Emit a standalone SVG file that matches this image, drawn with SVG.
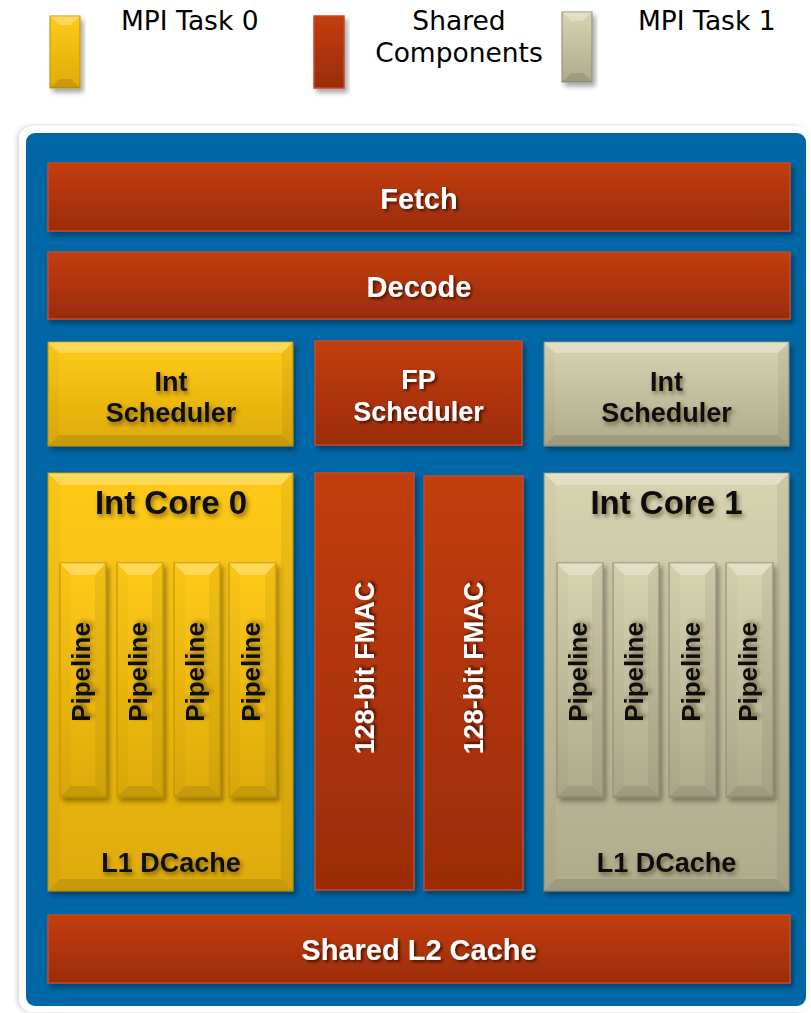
<svg xmlns="http://www.w3.org/2000/svg" width="811" height="1013" viewBox="0 0 811 1013">
  <defs>
    <linearGradient id="gRed" x1="0" y1="0" x2="0" y2="1">
      <stop offset="0" stop-color="#C33D0C"/>
      <stop offset="1" stop-color="#9B2C06"/>
    </linearGradient>
    <linearGradient id="gYel" x1="0" y1="0" x2="0" y2="1">
      <stop offset="0" stop-color="#FFCA16"/>
      <stop offset="1" stop-color="#DEAB0C"/>
    </linearGradient>
    <linearGradient id="gBei" x1="0" y1="0" x2="0" y2="1">
      <stop offset="0" stop-color="#D7D4B2"/>
      <stop offset="1" stop-color="#AEAB8C"/>
    </linearGradient>
    <filter id="boxShadow" x="-10%" y="-10%" width="130%" height="130%">
      <feDropShadow dx="3" dy="4" stdDeviation="2.5" flood-color="#000" flood-opacity="0.35"/>
    </filter>
    <filter id="frameShadow" x="-5%" y="-5%" width="110%" height="110%">
      <feDropShadow dx="-2" dy="0" stdDeviation="2.5" flood-color="#000" flood-opacity="0.18"/>
    </filter>
    <filter id="txtShadow" x="-20%" y="-30%" width="140%" height="160%">
      <feDropShadow dx="2" dy="2" stdDeviation="1.5" flood-color="#000" flood-opacity="0.6"/>
    </filter>
    <filter id="txtShadowDark" x="-20%" y="-30%" width="140%" height="160%">
      <feDropShadow dx="2" dy="3" stdDeviation="2" flood-color="#3a2a00" flood-opacity="0.55"/>
    </filter>
  </defs>
  <style>
    .red { fill: url(#gRed); stroke: #C24B2C; stroke-width: 1.5; }
    .yel { fill: url(#gYel); stroke: #C09300; stroke-width: 1; }
    .bei { fill: url(#gBei); stroke: #8F8C70; stroke-width: 1; }
    .hi { fill: #fff; opacity: 0.28; }
    .lo { fill: #000; opacity: 0.10; }
    .side { fill: #000; opacity: 0.025; }
    .sideR { fill: #000; opacity: 0.055; }
    .lbl { font-family: "Liberation Sans", Arial, sans-serif; font-weight: bold; text-anchor: middle; }
    .w { fill: #fff; filter: url(#txtShadow); }
    .k { fill: #111; filter: url(#txtShadowDark); }
    .legend { font-family: "DejaVu Sans", Verdana, sans-serif; font-size: 26.5px; fill: #000; }
  </style>

  <!-- legend -->
  <g id="legend">
    <g id="legend-task0">
      <rect class="yel" x="50" y="16" width="30" height="72" filter="url(#boxShadow)"/>
      <polygon class="hi" points="50,16 80,16 71,25 59,25"/>
      <polygon class="lo" points="50,88 80,88 71,79 59,79"/>
      <text class="legend" x="121" y="30">MPI Task 0</text>
    </g>
    <g id="legend-shared">
      <rect class="red" x="314" y="16" width="30" height="72" filter="url(#boxShadow)"/>
      <text class="legend" x="459" y="30" text-anchor="middle">Shared</text>
      <text class="legend" x="459" y="62" text-anchor="middle">Components</text>
    </g>
    <g id="legend-task1">
      <rect class="bei" x="562" y="12" width="30" height="70" filter="url(#boxShadow)"/>
      <polygon class="hi" points="562,12 592,12 583,21 571,21"/>
      <polygon class="lo" points="562,82 592,82 583,73 571,73"/>
      <text class="legend" x="638" y="30">MPI Task 1</text>
    </g>
  </g>

  <!-- chip outline -->
  <g id="chip">
    <rect x="19" y="126" width="791" height="886" rx="14" fill="#fff" filter="url(#frameShadow)"/>
    <rect x="26" y="133" width="780" height="873" rx="9" fill="#0067A7"/>
  </g>

  <!-- shared front end -->
  <g id="fetch">
    <rect class="red" x="48" y="163" width="742" height="68" filter="url(#boxShadow)"/>
    <text class="lbl w" x="419" y="209" font-size="29">Fetch</text>
  </g>
  <g id="decode">
    <rect class="red" x="48" y="252" width="742" height="67" filter="url(#boxShadow)"/>
    <text class="lbl w" x="419" y="297" font-size="29">Decode</text>
  </g>

  <!-- schedulers -->
  <g id="int-scheduler-0">
    <rect class="yel" x="48" y="342" width="245" height="104" filter="url(#boxShadow)"/>
    <polygon class="hi" points="48,342 293,342 282,353 59,353"/>
    <polygon class="lo" points="48,446 293,446 282,435 59,435"/>
    <polygon class="side" points="48,342 59,353 59,435 48,446"/>
    <polygon class="sideR" points="293,342 282,353 282,435 293,446"/>
    <text class="lbl k" x="171" y="391" font-size="27">Int</text>
    <text class="lbl k" x="171" y="422" font-size="27">Scheduler</text>
  </g>
  <g id="fp-scheduler">
    <rect class="red" x="315" y="341" width="207" height="104" filter="url(#boxShadow)"/>
    <text class="lbl w" x="418.5" y="389" font-size="27">FP</text>
    <text class="lbl w" x="418.5" y="421" font-size="27">Scheduler</text>
  </g>
  <g id="int-scheduler-1">
    <rect class="bei" x="544" y="342" width="245" height="104" filter="url(#boxShadow)"/>
    <polygon class="hi" points="544,342 789,342 778,353 555,353"/>
    <polygon class="lo" points="544,446 789,446 778,435 555,435"/>
    <polygon class="side" points="544,342 555,353 555,435 544,446"/>
    <polygon class="sideR" points="789,342 778,353 778,435 789,446"/>
    <text class="lbl k" x="666.5" y="391" font-size="27">Int</text>
    <text class="lbl k" x="666.5" y="422" font-size="27">Scheduler</text>
  </g>

  <!-- integer core 0 -->
  <g id="int-core-0">
    <rect class="yel" x="48" y="473" width="245" height="418" filter="url(#boxShadow)"/>
    <polygon class="hi" points="48,473 293,473 281,485 60,485"/>
    <polygon class="lo" points="48,891 293,891 281,879 60,879"/>
    <polygon class="side" points="48,473 60,485 60,879 48,891"/>
    <polygon class="sideR" points="293,473 281,485 281,879 293,891"/>
    <text class="lbl k" x="171" y="514" font-size="33">Int Core 0</text>
    <text class="lbl k" x="171" y="872" font-size="27">L1 DCache</text>
  </g>
  <g id="pipeline-0-0">
    <rect class="yel" x="60" y="563" width="46" height="234" filter="url(#boxShadow)"/>
    <polygon class="hi" points="60,563 106,563 95,575 71,575"/>
    <polygon class="lo" points="60,797 106,797 95,786 71,786"/>
    <polygon class="side" points="60,563 71,575 71,786 60,797"/>
    <polygon class="sideR" points="106,563 95,575 95,786 106,797"/>
    <text class="lbl k" font-size="26" transform="translate(90,672) rotate(-90)">Pipeline</text>
  </g>
  <g id="pipeline-0-1">
    <rect class="yel" x="117" y="563" width="46" height="234" filter="url(#boxShadow)"/>
    <polygon class="hi" points="117,563 163,563 152,575 128,575"/>
    <polygon class="lo" points="117,797 163,797 152,786 128,786"/>
    <polygon class="side" points="117,563 128,575 128,786 117,797"/>
    <polygon class="sideR" points="163,563 152,575 152,786 163,797"/>
    <text class="lbl k" font-size="26" transform="translate(147,672) rotate(-90)">Pipeline</text>
  </g>
  <g id="pipeline-0-2">
    <rect class="yel" x="174" y="563" width="46" height="234" filter="url(#boxShadow)"/>
    <polygon class="hi" points="174,563 220,563 209,575 185,575"/>
    <polygon class="lo" points="174,797 220,797 209,786 185,786"/>
    <polygon class="side" points="174,563 185,575 185,786 174,797"/>
    <polygon class="sideR" points="220,563 209,575 209,786 220,797"/>
    <text class="lbl k" font-size="26" transform="translate(204,672) rotate(-90)">Pipeline</text>
  </g>
  <g id="pipeline-0-3">
    <rect class="yel" x="229" y="563" width="47" height="234" filter="url(#boxShadow)"/>
    <polygon class="hi" points="229,563 276,563 265,575 240,575"/>
    <polygon class="lo" points="229,797 276,797 265,786 240,786"/>
    <polygon class="side" points="229,563 240,575 240,786 229,797"/>
    <polygon class="sideR" points="276,563 265,575 265,786 276,797"/>
    <text class="lbl k" font-size="26" transform="translate(260,672) rotate(-90)">Pipeline</text>
  </g>

  <!-- floating point units -->
  <g id="fmac-0">
    <rect class="red" x="315" y="473" width="99" height="417" filter="url(#boxShadow)"/>
    <text class="lbl w" font-size="27" transform="translate(374,668) rotate(-90)">128-bit FMAC</text>
  </g>
  <g id="fmac-1">
    <rect class="red" x="424" y="476" width="99" height="414" filter="url(#boxShadow)"/>
    <text class="lbl w" font-size="27" transform="translate(483,668) rotate(-90)">128-bit FMAC</text>
  </g>

  <!-- integer core 1 -->
  <g id="int-core-1">
    <rect class="bei" x="544" y="473" width="245" height="418" filter="url(#boxShadow)"/>
    <polygon class="hi" points="544,473 789,473 777,485 556,485"/>
    <polygon class="lo" points="544,891 789,891 777,879 556,879"/>
    <polygon class="side" points="544,473 556,485 556,879 544,891"/>
    <polygon class="sideR" points="789,473 777,485 777,879 789,891"/>
    <text class="lbl k" x="666.5" y="514" font-size="33">Int Core 1</text>
    <text class="lbl k" x="666.5" y="872" font-size="27">L1 DCache</text>
  </g>
  <g id="pipeline-1-0">
    <rect class="bei" x="557" y="563" width="46" height="234" filter="url(#boxShadow)"/>
    <polygon class="hi" points="557,563 603,563 592,575 568,575"/>
    <polygon class="lo" points="557,797 603,797 592,786 568,786"/>
    <polygon class="side" points="557,563 568,575 568,786 557,797"/>
    <polygon class="sideR" points="603,563 592,575 592,786 603,797"/>
    <text class="lbl k" font-size="26" transform="translate(587,672) rotate(-90)">Pipeline</text>
  </g>
  <g id="pipeline-1-1">
    <rect class="bei" x="613" y="563" width="46" height="234" filter="url(#boxShadow)"/>
    <polygon class="hi" points="613,563 659,563 648,575 624,575"/>
    <polygon class="lo" points="613,797 659,797 648,786 624,786"/>
    <polygon class="side" points="613,563 624,575 624,786 613,797"/>
    <polygon class="sideR" points="659,563 648,575 648,786 659,797"/>
    <text class="lbl k" font-size="26" transform="translate(643,672) rotate(-90)">Pipeline</text>
  </g>
  <g id="pipeline-1-2">
    <rect class="bei" x="669" y="563" width="47" height="234" filter="url(#boxShadow)"/>
    <polygon class="hi" points="669,563 716,563 705,575 680,575"/>
    <polygon class="lo" points="669,797 716,797 705,786 680,786"/>
    <polygon class="side" points="669,563 680,575 680,786 669,797"/>
    <polygon class="sideR" points="716,563 705,575 705,786 716,797"/>
    <text class="lbl k" font-size="26" transform="translate(700,672) rotate(-90)">Pipeline</text>
  </g>
  <g id="pipeline-1-3">
    <rect class="bei" x="726" y="563" width="47" height="234" filter="url(#boxShadow)"/>
    <polygon class="hi" points="726,563 773,563 762,575 737,575"/>
    <polygon class="lo" points="726,797 773,797 762,786 737,786"/>
    <polygon class="side" points="726,563 737,575 737,786 726,797"/>
    <polygon class="sideR" points="773,563 762,575 762,786 773,797"/>
    <text class="lbl k" font-size="26" transform="translate(757,672) rotate(-90)">Pipeline</text>
  </g>

  <!-- shared L2 -->
  <g id="shared-l2">
    <rect class="red" x="48" y="915" width="742" height="68" filter="url(#boxShadow)"/>
    <text class="lbl w" x="419" y="960" font-size="29">Shared L2 Cache</text>
  </g>

  <!-- no connectors in this block diagram -->
  <g id="connectors"/>
</svg>
